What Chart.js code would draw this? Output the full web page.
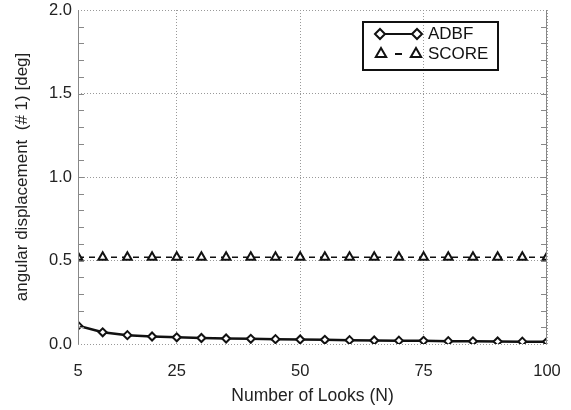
<!DOCTYPE html>
<html>
<head>
<meta charset="utf-8">
<script src="https://cdn.jsdelivr.net/npm/chart.js@4"></script>
<style>
html, body { margin: 0; padding: 0; background: #fff; }
#wrap { width: 571px; height: 410px; }
</style>
</head>
<body>
<div id="wrap"><canvas id="looksChart" width="571" height="410"></canvas></div>
<script>
// number of looks N
const looks = [5, 10, 15, 20, 25, 30, 35, 40, 45, 50, 55, 60, 65, 70, 75, 80, 85, 90, 95, 100]
// angular displacement of target #1 [deg]
const adbf = [0.11, 0.07, 0.053, 0.045, 0.04, 0.036, 0.033, 0.031, 0.029, 0.027, 0.025, 0.023, 0.021, 0.02, 0.019, 0.017, 0.016, 0.015, 0.014, 0.013]
const score = [0.52, 0.52, 0.52, 0.52, 0.52, 0.52, 0.52, 0.52, 0.52, 0.52, 0.52, 0.52, 0.52, 0.52, 0.52, 0.52, 0.52, 0.52, 0.52, 0.52]
const xTicks = [5, 25, 50, 75, 100]
const yTicks = [0, 0.5, 1.0, 1.5, 2.0]

const FONT = 'Liberation Sans, Arial, Helvetica, sans-serif'

// frame, inward minor ticks and the boxed legend
const framePlugin = {
    id: 'frame',
    afterDraw(chart) {
        const ctx = chart.ctx
        const area = chart.chartArea
        const y = chart.scales.y
        ctx.save()
        ctx.strokeStyle = '#888'
        ctx.lineWidth = 1
        ctx.beginPath()
        ctx.moveTo(area.left + 0.5, area.top)
        ctx.lineTo(area.left + 0.5, area.bottom)
        ctx.moveTo(area.right - 0.5, area.top)
        ctx.lineTo(area.right - 0.5, area.bottom)
        for (let i = 1; i < 20; i++) {
            const py = Math.round(y.getPixelForValue(i / 10)) + 0.5
            ctx.moveTo(area.left, py)
            ctx.lineTo(area.left + 6, py)
            ctx.moveTo(area.right - 6, py)
            ctx.lineTo(area.right, py)
        }
        ctx.stroke()

        // legend
        ctx.strokeStyle = '#111'
        ctx.lineWidth = 2
        ctx.strokeRect(363, 22, 135, 48)

        ctx.beginPath()
        ctx.moveTo(380, 34)
        ctx.lineTo(417, 34)
        ctx.moveTo(395, 54)
        ctx.lineTo(402, 54)
        ctx.stroke()
        ctx.fillStyle = '#fff'
        const diamond = { pointStyle: 'rectRot', radius: 5, borderWidth: 2, rotation: 0 }
        Chart.helpers.drawPoint(ctx, diamond, 380, 34)
        Chart.helpers.drawPoint(ctx, diamond, 417, 34)
        const tri = { pointStyle: 'triangle', radius: 6, borderWidth: 2, rotation: 0 }
        Chart.helpers.drawPoint(ctx, tri, 381, 54)
        Chart.helpers.drawPoint(ctx, tri, 416, 54)

        ctx.fillStyle = '#111'
        ctx.font = '17px ' + FONT
        ctx.textBaseline = 'middle'
        ctx.textAlign = 'left'
        ctx.fillText('ADBF', 428, 34)
        ctx.fillText('SCORE', 428, 54)
        ctx.restore()
    }
}

document.addEventListener('DOMContentLoaded', function() {
    const chartData = {
        datasets: [{
            label: 'ADBF',
            data: looks.map((n, i) => ({ x: n, y: adbf[i] })),
            borderColor: '#111',
            borderWidth: 2.5,
            pointStyle: 'rectRot',
            pointRadius: 4,
            pointBorderWidth: 2,
            pointBackgroundColor: '#fff',
            pointBorderColor: '#111'
        },
        {
            label: 'SCORE',
            data: looks.map((n, i) => ({ x: n, y: score[i] })),
            borderColor: '#111',
            borderWidth: 1.5,
            borderDash: [6, 5],
            pointStyle: 'triangle',
            pointRadius: 5,
            pointBorderWidth: 2,
            pointBackgroundColor: '#fff',
            pointBorderColor: '#111'
        }]
    }

    const gridStyle = {
        color: '#999',
        lineWidth: 1,
        drawTicks: false
    }

    const chartOptions = {
        responsive: false,
        animation: false,
        layout: { padding: { top: 10, right: 24, left: 0, bottom: 0 } },
        plugins: {
            legend: { display: false },
            tooltip: { enabled: false }
        },
        scales: {
            x: {
                type: 'linear',
                min: 5,
                max: 100,
                afterBuildTicks: scale => { scale.ticks = xTicks.map(v => ({ value: v })) },
                afterFit: scale => {
                    scale.height = 66
                    scale.paddingLeft = 0
                    scale.paddingRight = 0
                },
                grid: gridStyle,
                border: { display: false, dash: [1, 2] },
                ticks: {
                    font: { family: FONT, size: 16.5 },
                    color: '#222',
                    padding: 18,
                    maxRotation: 0
                },
                title: {
                    display: true,
                    text: 'Number of Looks (N)',
                    font: { family: FONT, size: 17.5 },
                    color: '#222',
                    padding: { top: 0, bottom: 3 }
                }
            },
            y: {
                min: 0,
                max: 2,
                afterBuildTicks: scale => { scale.ticks = yTicks.map(v => ({ value: v })) },
                afterFit: scale => {
                    scale.width = 78
                    scale.paddingTop = 0
                    scale.paddingBottom = 0
                },
                grid: gridStyle,
                border: { display: false, dash: [1, 2] },
                ticks: {
                    font: { family: FONT, size: 16.5 },
                    color: '#222',
                    padding: 6,
                    callback: v => v.toFixed(1)
                },
                title: {
                    display: true,
                    text: 'angular displacement  (# 1) [deg]',
                    font: { family: FONT, size: 17 },
                    color: '#222',
                    padding: { top: 12, bottom: 0 }
                }
            }
        }
    }

    new Chart(document.getElementById('looksChart'), {
        type: 'line',
        data: chartData,
        options: chartOptions,
        plugins: [framePlugin]
    })
})
</script>
</body>
</html>
